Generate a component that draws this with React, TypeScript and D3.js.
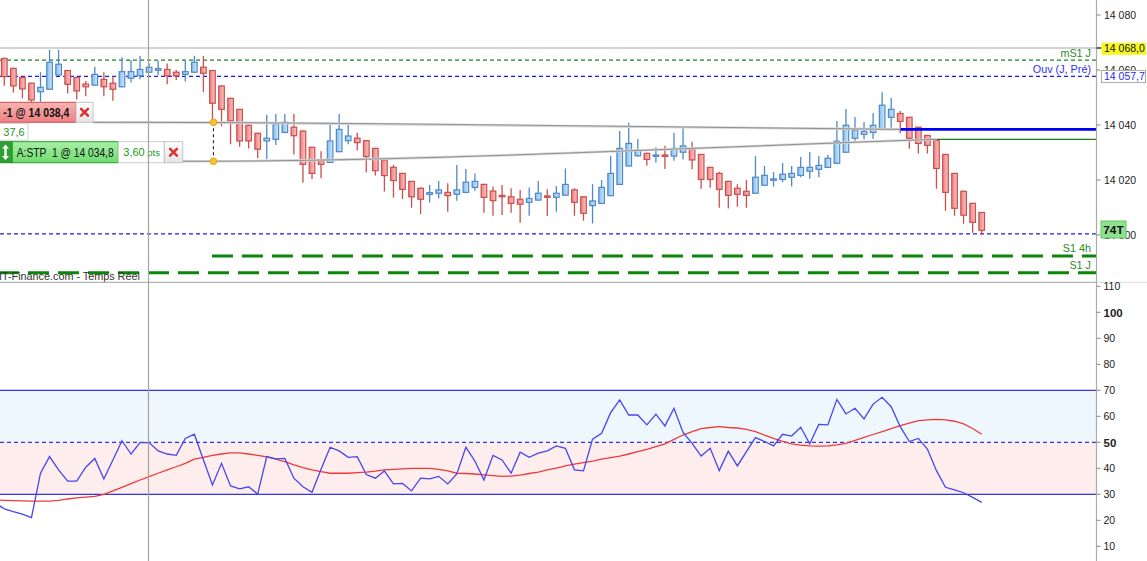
import { useEffect, useRef } from 'react';
import * as d3 from 'd3';

// candles (one per bar)
const opens = [
  14064.2, 14060.6, 14057.3, 14055.2, 14052.1, 14053.0, 14058.2, 14059.8, 14057.3, 14054.9,
  14054.5, 14056.6, 14055.2, 14053.9, 14057.0, 14057.9, 14059.2, 14059.9, 14060.2, 14059.2,
  14058.4, 14059.2, 14061.0, 14059.8, 14054.2, 14049.7, 14045.7, 14039.9, 14037.0, 14034.2,
  14034.8, 14037.3, 14039.2, 14037.8, 14031.9, 14027.0, 14026.4, 14030.3, 14034.3, 14035.2,
  14034.3, 14031.5, 14027.3, 14024.6, 14022.4, 14019.5, 14017.0, 14014.8, 14015.2, 14015.5,
  14014.8, 14015.5, 14017.3, 14018.4, 14016.0, 14014.4, 14013.9, 14013.0, 14011.9, 14012.7,
  14014.2, 14013.7, 14014.5, 14016.4, 14013.9, 14010.7, 14011.5, 14014.3, 14018.4, 14025.1,
  14028.8, 14029.7, 14028.6, 14029.1, 14028.7, 14030.1, 14031.2, 14029.3, 14024.6, 14022.4,
  14019.5, 14017.0, 14015.9, 14015.2, 14018.1, 14019.9, 14020.2, 14021.0, 14021.7, 14023.2,
  14023.9, 14024.6, 14026.1, 14030.1, 14035.2, 14036.6, 14037.3, 14038.7, 14042.8, 14044.2,
  14042.8, 14039.2, 14036.2, 14034.4, 14029.3, 14022.4, 14015.9, 14011.5, 14008.2,
];
const highs = [
  14064.5, 14060.8, 14057.5, 14055.4, 14059.2, 14067.3, 14067.3, 14060.0, 14057.5, 14056.0,
  14061.2, 14059.2, 14057.6, 14064.6, 14063.6, 14065.1, 14062.5, 14063.4, 14062.4, 14060.0,
  14063.4, 14065.2, 14065.1, 14060.0, 14054.4, 14049.9, 14045.9, 14040.1, 14037.2, 14043.6,
  14044.0, 14044.0, 14044.0, 14038.0, 14032.1, 14030.5, 14040.6, 14044.0, 14040.4, 14037.2,
  14034.5, 14031.7, 14027.5, 14025.5, 14022.6, 14019.7, 14017.3, 14018.2, 14019.6, 14018.8,
  14025.5, 14024.0, 14022.4, 14018.6, 14017.6, 14018.2, 14017.0, 14016.4, 14017.3, 14019.6,
  14016.6, 14017.8, 14024.2, 14017.0, 14014.1, 14018.5, 14020.0, 14028.7, 14037.8, 14040.8,
  14034.9, 14029.9, 14031.9, 14032.5, 14037.2, 14039.2, 14033.9, 14029.5, 14024.8, 14023.0,
  14019.7, 14018.5, 14020.0, 14028.7, 14025.1, 14022.9, 14026.2, 14025.1, 14028.4, 14030.2,
  14028.7, 14029.1, 14041.5, 14045.8, 14042.9, 14041.1, 14044.4, 14051.9, 14049.8, 14045.1,
  14043.0, 14039.4, 14036.4, 14034.6, 14029.5, 14022.6, 14016.1, 14011.7, 14008.4,
];
const lows = [
  14054.3, 14051.8, 14049.7, 14048.2, 14048.5, 14052.8, 14058.0, 14051.5, 14049.3, 14050.5,
  14054.3, 14050.5, 14048.8, 14053.7, 14055.5, 14056.6, 14058.9, 14058.2, 14054.8, 14056.4,
  14055.8, 14059.0, 14051.9, 14041.8, 14039.6, 14033.0, 14032.1, 14031.5, 14027.9, 14027.6,
  14032.7, 14037.0, 14029.3, 14019.0, 14020.4, 14020.6, 14026.2, 14030.1, 14033.0, 14030.7,
  14022.7, 14021.6, 14015.8, 14013.6, 14013.1, 14009.9, 14007.6, 14011.8, 14013.3, 14008.5,
  14012.5, 14015.2, 14016.1, 14008.1, 14007.0, 14007.3, 14008.1, 14004.5, 14007.0, 14012.5,
  14006.9, 14008.5, 14014.3, 14007.0, 14005.2, 14004.2, 14011.3, 14014.1, 14018.2, 14024.9,
  14028.5, 14025.2, 14026.4, 14024.0, 14027.0, 14027.5, 14023.9, 14016.8, 14017.2, 14009.9,
  14009.6, 14010.3, 14009.9, 14015.0, 14017.9, 14017.6, 14019.2, 14017.6, 14021.0, 14020.5,
  14021.0, 14024.4, 14025.7, 14029.9, 14034.3, 14034.8, 14034.9, 14038.5, 14039.0, 14037.0,
  14031.4, 14029.6, 14029.6, 14016.8, 14008.8, 14007.0, 14004.1, 14000.8, 14000.0,
];
const closes = [
  14057.6, 14054.2, 14053.1, 14049.1, 14053.7, 14062.8, 14062.1, 14054.8, 14052.4, 14053.9,
  14058.4, 14053.9, 14053.0, 14059.4, 14059.4, 14060.2, 14061.0, 14060.5, 14057.9, 14057.9,
  14059.4, 14062.8, 14058.8, 14047.9, 14045.7, 14041.5, 14034.2, 14034.2, 14031.2, 14035.2,
  14040.4, 14041.0, 14036.1, 14025.7, 14022.4, 14025.7, 14034.2, 14038.4, 14036.0, 14033.6,
  14028.5, 14023.4, 14021.6, 14019.8, 14016.6, 14013.9, 14013.0, 14015.4, 14016.4, 14014.3,
  14016.4, 14019.2, 14019.5, 14013.7, 14012.5, 14013.9, 14011.5, 14011.2, 14013.3, 14015.2,
  14013.7, 14015.2, 14018.4, 14011.9, 14007.9, 14012.4, 14017.3, 14022.4, 14031.5, 14033.3,
  14030.9, 14027.5, 14029.1, 14028.6, 14031.5, 14032.4, 14027.3, 14020.2, 14020.2, 14016.6,
  14014.4, 14014.8, 14014.4, 14021.0, 14021.7, 14020.4, 14022.1, 14022.4, 14024.6, 14024.6,
  14025.3, 14027.9, 14034.1, 14039.9, 14038.1, 14037.7, 14039.9, 14047.2, 14045.7, 14041.3,
  14035.2, 14033.3, 14032.6, 14024.2, 14015.5, 14009.7, 14007.2, 14004.6, 14001.7,
];

// RSI and its moving average; the first value belongs to the bar just left of the view
const rsiValues = [
  26.6,
  24.4, 23.3, 22.4, 21.0, 38.1, 44.5, 39.4, 35.1, 35.1, 40.4,
  43.8, 35.9, 43.2, 50.6, 45.5, 49.9, 49.9, 46.7, 45.5, 45.0,
  51.5, 53.1, 43.3, 33.6, 41.9, 33.2, 32.1, 32.9, 30.1, 44.5,
  43.6, 43.8, 36.2, 32.9, 30.8, 39.6, 48.1, 46.7, 44.2, 44.5,
  37.6, 36.2, 39.0, 34.0, 34.2, 31.3, 36.2, 35.9, 36.9, 34.0,
  37.8, 48.1, 42.8, 35.5, 45.0, 43.2, 38.1, 46.2, 44.2, 45.8,
  46.7, 48.6, 47.7, 39.4, 39.0, 51.2, 53.5, 61.4, 66.3, 60.5,
  60.5, 56.7, 60.8, 56.3, 63.1, 53.8, 49.6, 44.7, 47.7, 39.1,
  46.6, 40.9, 46.4, 51.8, 50.3, 48.6, 53.1, 52.4, 55.8, 49.4,
  56.9, 56.7, 66.5, 60.9, 63.1, 59.0, 64.7, 67.3, 63.7, 56.0,
  50.3, 51.5, 47.4, 39.1, 32.7, 31.7, 30.6, 28.8, 26.9,
];
const rsiAverage = [
  27.8,
  27.7, 27.6, 27.5, 27.4, 27.4, 27.4, 27.7, 28.2, 28.6, 28.9,
  29.2, 30.0, 31.3, 32.7, 34.1, 35.5, 36.8, 38.1, 39.4, 40.6,
  41.9, 43.5, 44.2, 45.0, 45.5, 45.9, 45.9, 45.5, 45.0, 44.4,
  43.5, 42.6, 41.3, 40.3, 39.4, 38.7, 38.1, 38.1, 38.1, 38.3,
  38.5, 38.9, 39.4, 39.6, 39.8, 40.0, 40.0, 40.0, 39.6, 39.0,
  38.1, 38.0, 37.8, 37.5, 37.2, 36.9, 37.0, 37.4, 38.0, 38.5,
  39.4, 40.1, 40.9, 41.6, 42.2, 42.8, 43.5, 44.1, 44.7, 45.5,
  46.4, 47.3, 48.3, 49.4, 51.1, 52.8, 54.1, 55.3, 55.7, 56.0,
  55.7, 55.5, 55.0, 54.1, 52.8, 51.5, 50.4, 49.4, 48.9, 48.6,
  48.5, 48.6, 49.0, 49.6, 50.7, 51.9, 53.0, 54.1, 55.3, 56.4,
  57.4, 58.3, 58.6, 58.8, 58.6, 58.1, 57.1, 55.3, 53.1,
];

const priceTicks = [14000, 14020, 14040, 14060, 14080];
const rsiTicks = [10, 20, 30, 40, 50, 60, 70, 80, 90, 100, 110];
const rsiBoldTicks = [50, 100];
const rsiLevels = [30, 50, 70];

const crosshairBar = 17;
const crosshairPrice = 14068.0;
const monthlyS1 = 14063.6;
const openPrevDay = 14057.7;
const sessionLow = 14000.4;
const s1FourHour = 13992.4;
const s1Daily = 13986.3;
const sellOrder = { qty: -1, price: 14038.4, fromBar: 100, gap: 37.6 };
const stopOrder = { qty: 1, price: 14034.8, fromBar: 104, pts: 3.6 };
const anchorBar = 24;
const lastTag = '74T';
const sourceText = 'IT-Finance.com - Temps Réel';

const W = 1147;
const H = 561;
const AXIS_X = 1096.5;
const SPLIT_Y = 282.3;

const App = () => {
  const svgRef = useRef<SVGSVGElement>(null);

  useEffect(() => {
    if (!svgRef.current) return;
    const svg = d3.select(svgRef.current);
    svg.selectAll('*').remove();

    const font = '"Liberation Sans", Arial, sans-serif';
    const fr = d3.formatLocale({ decimal: ',', thousands: ' ', grouping: [3], currency: ['', ''] });
    const fmtInt = fr.format(',');
    const fmt1 = fr.format(',.1f');
    const fmt2 = fr.format(',.2f');

    const bars = d3.range(1, opens.length + 1);
    const rsiBars = d3.range(0, rsiValues.length);
    const x = d3.scaleLinear().domain([1, opens.length]).range([4.3, 981.7]);
    const y = d3.scaleLinear().domain([14000, 14080]).range([235, 15]);
    const yr = d3.scaleLinear().domain([10, 110]).range([546.3, 286.3]);

    const defs = svg.append('defs');
    const grad = (id: string, c0: string, c1: string, vertical = false) => {
      const g = defs.append('linearGradient').attr('id', id)
        .attr('x1', 0).attr('y1', 0).attr('x2', vertical ? 0 : 1).attr('y2', vertical ? 1 : 0);
      g.append('stop').attr('offset', 0).attr('stop-color', c0);
      g.append('stop').attr('offset', 1).attr('stop-color', c1);
    };
    grad('gDown', '#f07f7f', '#fcc4c4');
    grad('gUp', '#82bdee', '#d3eafc');
    grad('gSell', '#f8b4b4', '#ef8080', true);
    grad('gStop', '#a6f0a6', '#6fdc6f', true);
    grad('gBtn', '#ffffff', '#e4e4e4', true);
    defs.append('clipPath').attr('id', 'clipMain')
      .append('rect').attr('x', 0).attr('y', 0).attr('width', AXIS_X).attr('height', SPLIT_Y);
    defs.append('clipPath').attr('id', 'clipRsi')
      .append('rect').attr('x', 0).attr('y', SPLIT_Y).attr('width', AXIS_X).attr('height', H - SPLIT_Y);

    svg.append('rect').attr('width', W).attr('height', H).attr('fill', '#fff');

    // ---------- price panel ----------
    const main = svg.append('g').attr('clip-path', 'url(#clipMain)');

    const hline = (p: number, color: string, dash: string | null, width = 1, x0 = 0, offset = 0) =>
      main.append('line')
        .attr('x1', x0).attr('x2', AXIS_X)
        .attr('y1', y(p)).attr('y2', y(p))
        .attr('stroke', color).attr('stroke-width', width)
        .attr('stroke-dasharray', dash)
        .attr('stroke-dashoffset', offset);

    hline(crosshairPrice, '#a8a8a8', null, 1.2);
    hline(monthlyS1, '#108a10', '4,3', 1.2);
    hline(openPrevDay, '#1c1cf2', '4,3', 1.2);
    hline(sessionLow, '#1c1cf2', '4,3', 1.2);
    hline(s1FourHour, '#0b860b', '21,9', 3, x(anchorBar) - 0.5);
    hline(s1Daily, '#0b860b', '21,9', 3, 0, 2);

    const levelText = (p: number, label: string, color: string) =>
      main.append('text')
        .attr('x', 1091).attr('y', y(p) - 3.5)
        .attr('text-anchor', 'end')
        .style('font-family', font).style('font-size', '10.8px')
        .attr('fill', color).text(label);
    levelText(monthlyS1, 'mS1 J', '#2a8a2a');
    levelText(openPrevDay, 'Ouv (J, Pré)', '#3030ee');
    levelText(s1FourHour, 'S1 4h', '#2a8a2a');
    levelText(s1Daily, 'S1 J', '#2a8a2a');

    main.append('text')
      .attr('x', -1).attr('y', 279.5)
      .style('font-family', font).style('font-size', '10.8px')
      .attr('fill', '#333').text(sourceText);

    // candles
    const candle = main.append('g').selectAll('g.candle').data(bars).enter()
      .append('g').attr('class', 'candle');
    const up = (i: number) => closes[i - 1] >= opens[i - 1];
    candle.append('line')
      .attr('x1', d => x(d)).attr('x2', d => x(d))
      .attr('y1', d => y(highs[d - 1])).attr('y2', d => y(lows[d - 1]))
      .attr('stroke', d => up(d) ? '#4f88c8' : '#c8504e')
      .attr('stroke-width', 1.3);
    candle.append('rect')
      .attr('x', d => x(d) - 2.8)
      .attr('width', 5.6)
      .attr('y', d => y(Math.max(opens[d - 1], closes[d - 1])))
      .attr('height', d => Math.max(1, Math.abs(y(opens[d - 1]) - y(closes[d - 1]))))
      .attr('fill', d => up(d) ? 'url(#gUp)' : 'url(#gDown)')
      .attr('stroke', d => up(d) ? '#4f88c8' : '#c8504e')
      .attr('stroke-width', 1.2);

    // order lines
    main.append('line')
      .attr('x1', x(sellOrder.fromBar)).attr('x2', AXIS_X)
      .attr('y1', y(sellOrder.price)).attr('y2', y(sellOrder.price))
      .attr('stroke', '#0000f0').attr('stroke-width', 2.6);
    main.append('line')
      .attr('x1', x(stopOrder.fromBar)).attr('x2', AXIS_X)
      .attr('y1', y(stopOrder.price)).attr('y2', y(stopOrder.price))
      .attr('stroke', '#1a7a1a').attr('stroke-width', 1.2);

    const sellLabelY = 122.3;
    const stopLabelY = 161.3;
    const link = (x0: number, y0: number, x1: number, y1: number, k: number) => {
      const p = d3.path();
      const dx = x1 - x0, dy = y1 - y0;
      p.moveTo(x0, y0);
      p.bezierCurveTo(x0 + 0.3 * dx, y0, x0 + 0.55 * dx, y0 + k * dy, x1, y1);
      return p.toString();
    };
    const links = [
      link(93, sellLabelY, x(sellOrder.fromBar), y(sellOrder.price), 0.45),
      link(182.7, stopLabelY, x(stopOrder.fromBar), y(stopOrder.price), 0.45),
    ];
    main.selectAll('path.halo').data(links).enter().append('path')
      .attr('d', d => d).attr('fill', 'none').attr('stroke', '#d6d6d6').attr('stroke-width', 2.6);
    main.selectAll('path.core').data(links).enter().append('path')
      .attr('d', d => d).attr('fill', 'none').attr('stroke', '#909090').attr('stroke-width', 1);

    // order widgets
    const ui = main.append('g').style('font-family', font);
    const cross = (cx: number, cy: number) => {
      const s = 3.4;
      ui.append('path')
        .attr('d', `M${cx - s},${cy - s}L${cx + s},${cy + s}M${cx + s},${cy - s}L${cx - s},${cy + s}`)
        .attr('stroke', '#d83434').attr('stroke-width', 2.6).attr('stroke-linecap', 'round');
    };
    ui.append('rect').attr('x', -1).attr('y', 102.3).attr('width', 77).attr('height', 20)
      .attr('fill', 'url(#gSell)').attr('stroke', '#d24a4a').attr('stroke-width', 1);
    ui.append('text').attr('x', 3.3).attr('y', 116.8)
      .style('font-size', '12px').style('font-weight', 'bold').attr('fill', '#111')
      .attr('textLength', 66).attr('lengthAdjust', 'spacingAndGlyphs')
      .text(`${sellOrder.qty} @ ${fmt1(sellOrder.price)}`);
    ui.append('rect').attr('x', 76).attr('y', 102.3).attr('width', 17).attr('height', 20)
      .attr('fill', 'url(#gBtn)').attr('stroke', '#c4c4c4');
    cross(84.5, 112.3);

    ui.append('rect').attr('x', -1).attr('y', 123.3).attr('width', 29).attr('height', 17)
      .attr('fill', '#fff').attr('stroke', '#d0d0d0');
    ui.append('text').attr('x', 3.3).attr('y', 136)
      .style('font-size', '11px').attr('fill', '#23951f').text(fmt1(sellOrder.gap));

    ui.append('rect').attr('x', -1).attr('y', 141.7).attr('width', 13.3).attr('height', 21)
      .attr('fill', '#2f9f35').attr('stroke', '#1f8a25');
    ui.append('path')
      .attr('d', 'M5.5,144.5L2,148.5L4.3,148.5L4.3,155.9L2,155.9L5.5,159.9L9,155.9L6.7,155.9L6.7,148.5L9,148.5Z')
      .attr('fill', '#fff');
    ui.append('rect').attr('x', 12.3).attr('y', 141.7).attr('width', 106).attr('height', 21)
      .attr('fill', 'url(#gStop)').attr('stroke', '#23a023').attr('stroke-width', 1);
    ui.append('text').attr('x', 16.7).attr('y', 156.8)
      .style('font-size', '12px').attr('fill', '#111')
      .attr('xml:space', 'preserve')
      .attr('textLength', 97).attr('lengthAdjust', 'spacingAndGlyphs')
      .text(`A:STP  ${stopOrder.qty} @ ${fmt1(stopOrder.price)}`);
    ui.append('rect').attr('x', 118.3).attr('y', 141.7).attr('width', 46).attr('height', 21)
      .attr('fill', '#fff').attr('stroke', '#cdcdcd');
    const pts = ui.append('text').attr('x', 123.3).attr('y', 156).attr('fill', '#23951f');
    pts.append('tspan').style('font-size', '11px').text(fmt2(stopOrder.pts));
    pts.append('tspan').attr('dx', 2.5).style('font-size', '9.5px').text('pts');
    ui.append('rect').attr('x', 164.3).attr('y', 141.7).attr('width', 18.4).attr('height', 21)
      .attr('fill', 'url(#gBtn)').attr('stroke', '#c4c4c4');
    cross(173.5, 152.3);

    const ax = x(anchorBar) + 1;
    main.append('line').attr('x1', ax).attr('x2', ax).attr('y1', sellLabelY).attr('y2', stopLabelY)
      .attr('stroke', '#222').attr('stroke-width', 1.1).attr('stroke-dasharray', '3,3');
    [sellLabelY, stopLabelY].forEach(cy => {
      main.append('circle').attr('cx', ax).attr('cy', cy).attr('r', 3.3)
        .attr('fill', '#f8c436').attr('stroke', '#e6a400').attr('stroke-width', 1);
    });

    // ---------- RSI panel ----------
    const rsi = svg.append('g').attr('clip-path', 'url(#clipRsi)');
    rsi.append('rect').attr('x', 0).attr('width', AXIS_X)
      .attr('y', yr(70)).attr('height', yr(50) - yr(70)).attr('fill', '#eef7fe');
    rsi.append('rect').attr('x', 0).attr('width', AXIS_X)
      .attr('y', yr(50)).attr('height', yr(30) - yr(50)).attr('fill', '#fdeded');
    rsi.selectAll('line.level').data(rsiLevels).enter().append('line')
      .attr('x1', 0).attr('x2', AXIS_X)
      .attr('y1', d => yr(d)).attr('y2', d => yr(d))
      .attr('stroke', '#3434e0').attr('stroke-width', 1.3)
      .attr('stroke-dasharray', d => d === 50 ? '4,3' : null);

    const lineGen = (vals: number[]) => d3.line<number>()
      .x(d => x(d)).y(d => yr(vals[d]))(rsiBars);
    rsi.append('path').attr('d', lineGen(rsiAverage)).attr('fill', 'none')
      .attr('stroke', '#f03a3a').attr('stroke-width', 1.3);
    rsi.append('path').attr('d', lineGen(rsiValues)).attr('fill', 'none')
      .attr('stroke', '#4646ee').attr('stroke-width', 1.3);

    // separators and crosshair
    svg.append('line').attr('x1', 0).attr('x2', AXIS_X).attr('y1', SPLIT_Y).attr('y2', SPLIT_Y)
      .attr('stroke', '#b4b4b4').attr('stroke-width', 1.2);
    svg.append('line').attr('x1', AXIS_X).attr('x2', W).attr('y1', SPLIT_Y).attr('y2', SPLIT_Y)
      .attr('stroke', '#e2e2e2').attr('stroke-width', 1.2);
    svg.append('line').attr('x1', x(crosshairBar) - 0.6).attr('x2', x(crosshairBar) - 0.6)
      .attr('y1', 0).attr('y2', H).attr('stroke', '#a4a4a4').attr('stroke-width', 1.2);

    // ---------- right axis ----------
    svg.append('line').attr('x1', AXIS_X).attr('x2', AXIS_X).attr('y1', 0).attr('y2', H)
      .attr('stroke', '#ababab').attr('stroke-width', 1.2);
    const axis = svg.append('g').style('font-family', font);
    axis.selectAll('line.pt').data(priceTicks).enter().append('line')
      .attr('x1', AXIS_X).attr('x2', AXIS_X + 4)
      .attr('y1', d => y(d)).attr('y2', d => y(d)).attr('stroke', '#888');
    axis.selectAll('text.pt').data(priceTicks).enter().append('text')
      .attr('x', 1104).attr('y', d => y(d) + 3.8)
      .style('font-size', '10.5px').attr('fill', '#222')
      .text(d => fmtInt(d));
    axis.selectAll('line.rt').data(rsiTicks).enter().append('line')
      .attr('x1', AXIS_X).attr('x2', AXIS_X + 4)
      .attr('y1', d => yr(d)).attr('y2', d => yr(d)).attr('stroke', '#888');
    axis.selectAll('text.rt').data(rsiTicks).enter().append('text')
      .attr('x', 1103.5).attr('y', d => yr(d) + (rsiBoldTicks.includes(d) ? 4.3 : 3.8))
      .style('font-size', d => rsiBoldTicks.includes(d) ? '11.5px' : '10.5px')
      .style('font-weight', d => rsiBoldTicks.includes(d) ? 'bold' : 'normal')
      .attr('fill', '#222')
      .text(d => d);

    // crosshair price tag
    axis.append('line').attr('x1', AXIS_X).attr('x2', 1101.5)
      .attr('y1', y(crosshairPrice)).attr('y2', y(crosshairPrice)).attr('stroke', '#111').attr('stroke-width', 1.3);
    axis.append('rect').attr('x', 1101.5).attr('y', y(crosshairPrice) - 5.2).attr('width', 44.5).attr('height', 12)
      .attr('fill', '#f7f71c');
    axis.append('text').attr('x', 1104).attr('y', y(crosshairPrice) + 4.2)
      .style('font-size', '10.5px').attr('fill', '#111').text(fmt1(crosshairPrice));

    // previous-day open tag
    axis.append('rect').attr('x', 1101.5).attr('y', y(openPrevDay) - 5.8).attr('width', 44).attr('height', 12)
      .attr('fill', '#fff').attr('stroke', '#aaa');
    axis.append('text').attr('x', 1104).attr('y', y(openPrevDay) + 4)
      .style('font-size', '10.5px').attr('fill', '#2a2aee').text(fmt1(openPrevDay));

    // last tag
    axis.append('rect').attr('x', 1101).attr('y', 221).attr('width', 25).attr('height', 17)
      .attr('fill', '#8fe08f').attr('stroke', '#62c862');
    axis.append('text').attr('x', 1103.3).attr('y', 234)
      .style('font-size', '11.8px').style('font-weight', 'bold').attr('fill', '#111').text(lastTag);
  }, []);

  return (
    <div>
      <svg ref={svgRef} width={W} height={H} style={{ position: 'absolute', left: 0, top: 0, display: 'block' }}></svg>
    </div>
  );
};

export default App;
